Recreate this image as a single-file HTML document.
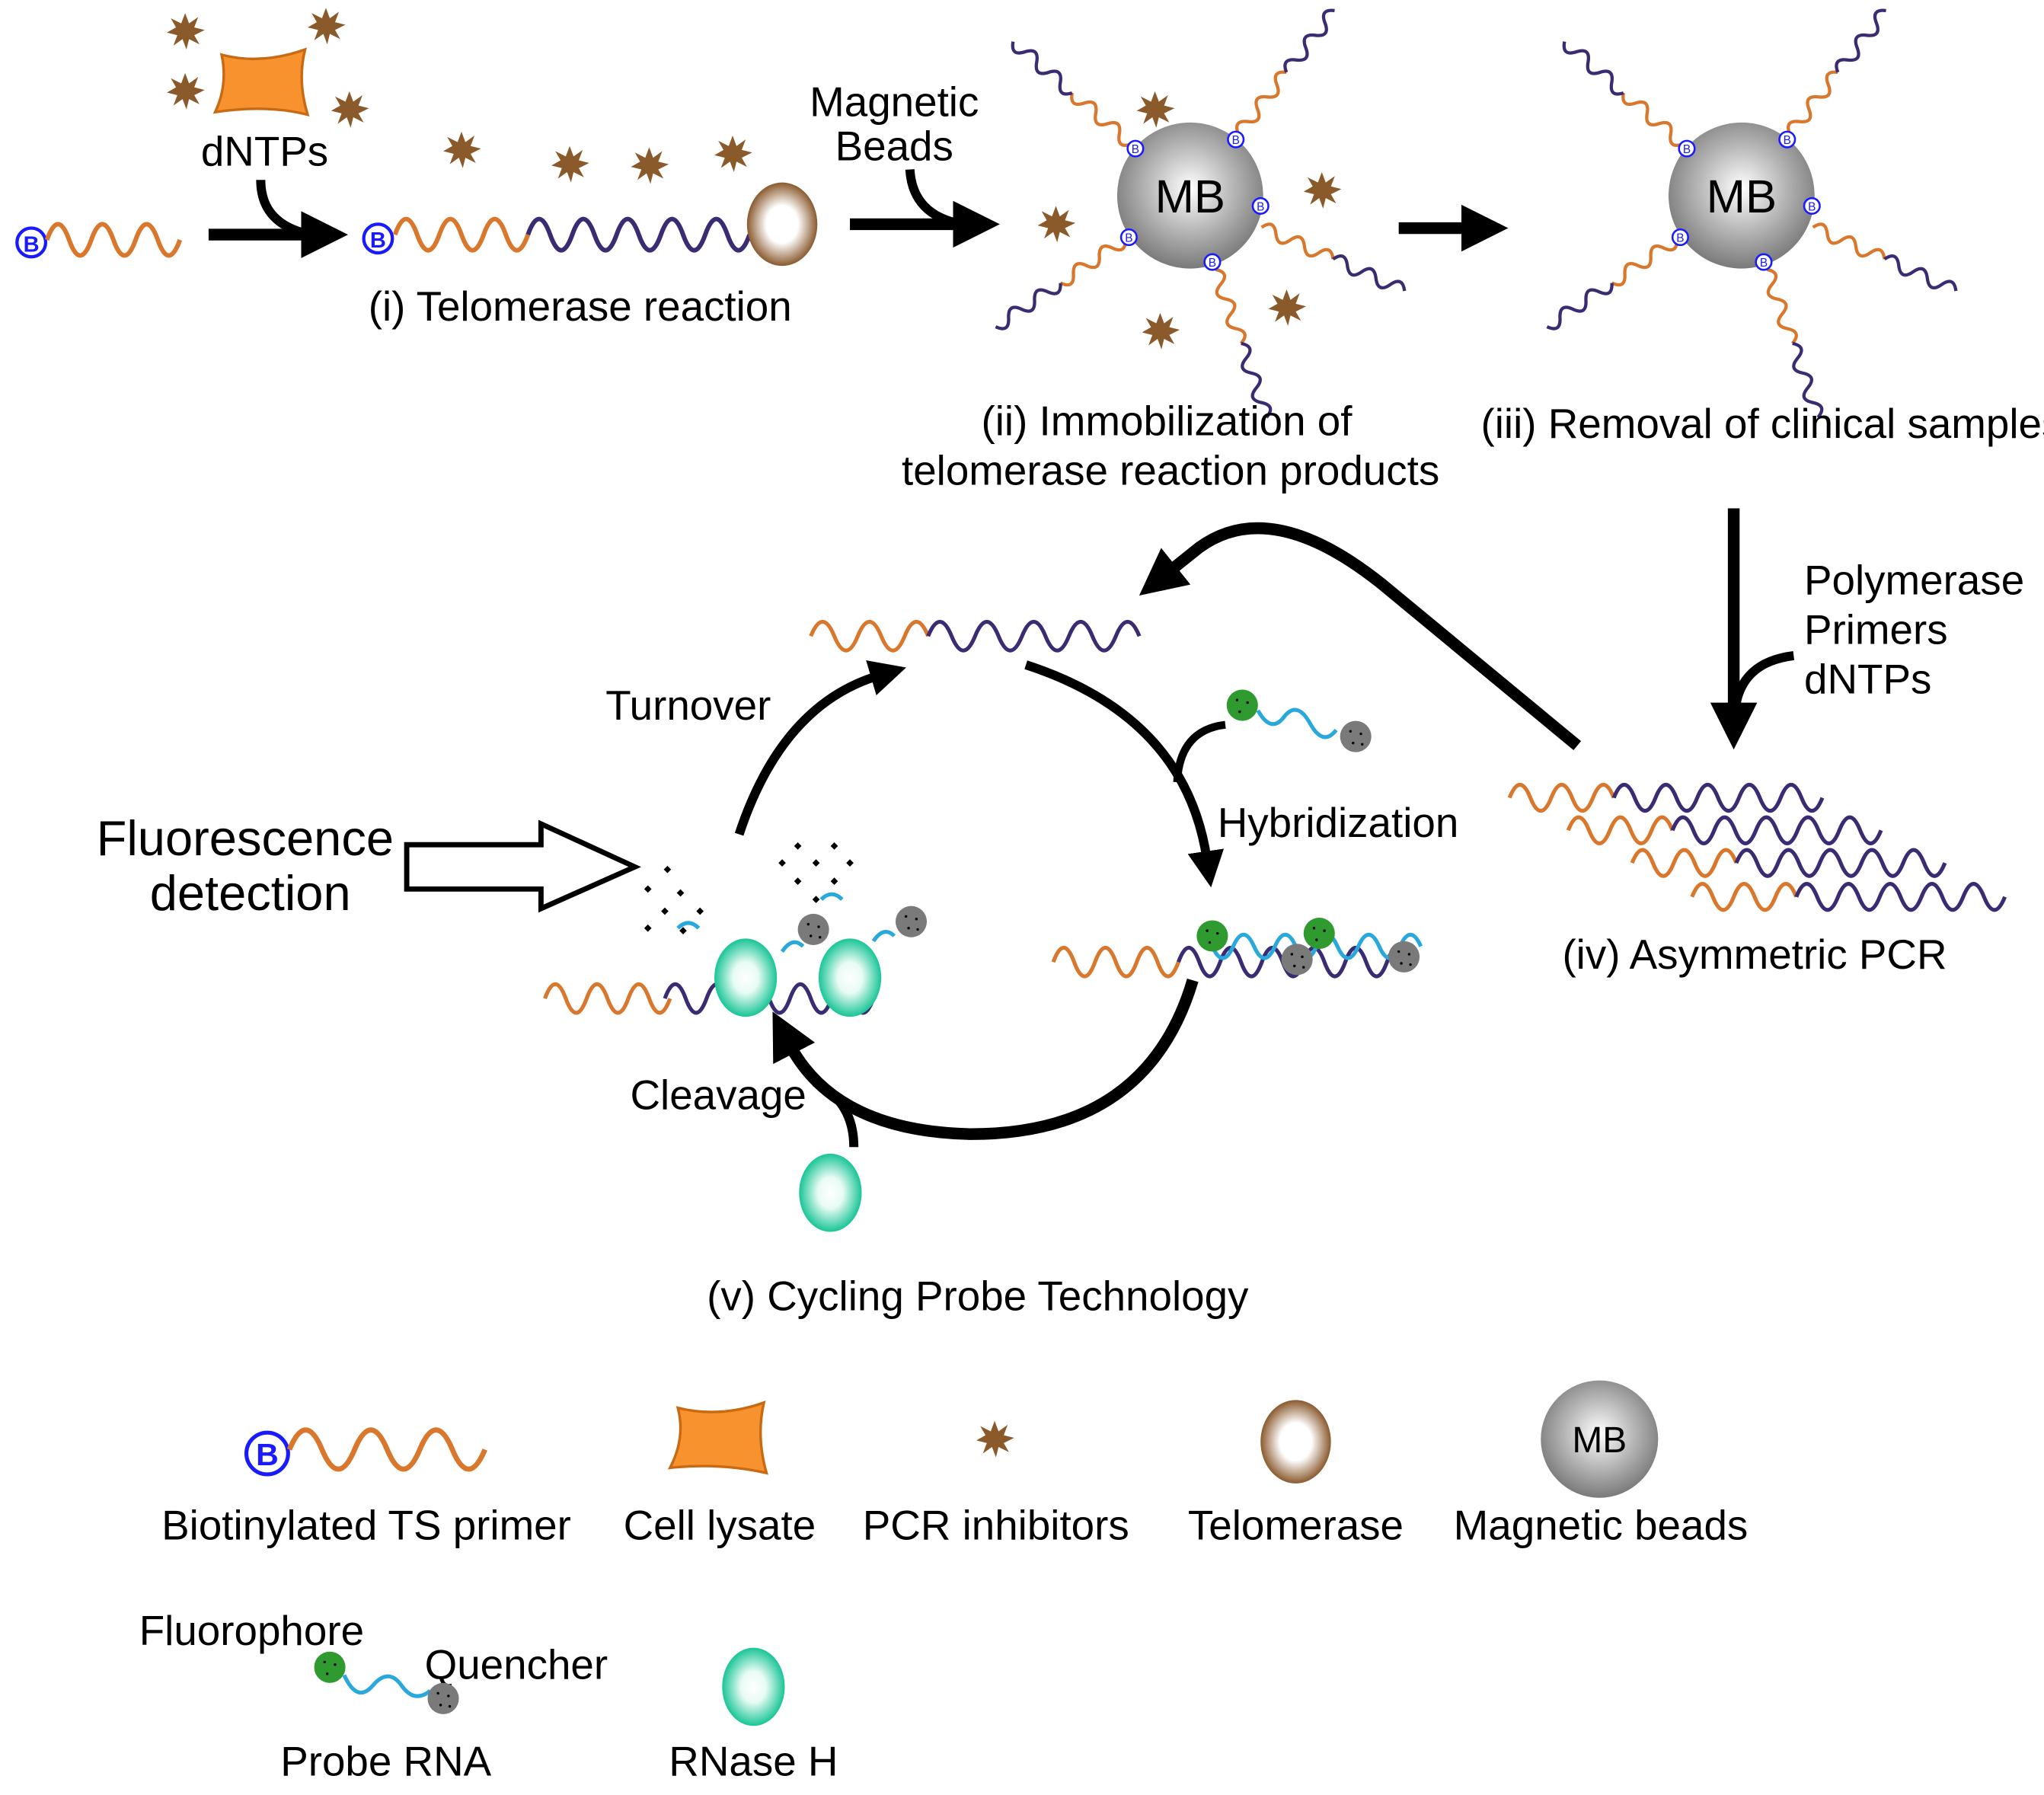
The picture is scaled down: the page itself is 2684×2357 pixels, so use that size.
<!DOCTYPE html>
<html><head><meta charset="utf-8"><style>
html,body{margin:0;padding:0;background:#fff;}
svg{display:block;}
text{font-family:"Liberation Sans",Arial,sans-serif;fill:#000;}
</style></head><body>
<svg width="2684" height="2357" viewBox="0 0 1568 1377" xmlns="http://www.w3.org/2000/svg">
<defs>
<radialGradient id="gb" cx="50%" cy="50%" r="50%"><stop offset="0" stop-color="#fff"/><stop offset="0.45" stop-color="#fff"/><stop offset="1" stop-color="#8a5a2e"/></radialGradient>
<radialGradient id="gm" cx="50%" cy="45%" r="55%"><stop offset="0" stop-color="#fff"/><stop offset="0.5" stop-color="#bbb"/><stop offset="1" stop-color="#7a7a7a"/></radialGradient>
<radialGradient id="gt" cx="50%" cy="50%" r="50%"><stop offset="0" stop-color="#fff"/><stop offset="0.4" stop-color="#e8fbf4"/><stop offset="1" stop-color="#19c596"/></radialGradient>
<polygon id="star" points="0,-14 3,-6 10,-11 7,-3 15,-1 7,3 11,10 3,6 1,14 -2,6 -9,11 -6,3 -14,1 -7,-3 -11,-10 -3,-6" fill="#8b5a2b"/>
<g id="strand">
<path d="M60,0 q6,-10 12,0 t12,0 t12,0 t12,0 t12,0" stroke="#d9782c" stroke-width="2.5" fill="none"/>
<path d="M120,0 q6,-10 12,0 t12,0 t12,0 t12,0 t12,0" stroke="#3b2b73" stroke-width="2.5" fill="none"/>
</g>
<g id="bb"><circle r="6" fill="#fff" stroke="#1a1aff" stroke-width="1.5"/><text x="0" y="3.5" font-size="9" text-anchor="middle" style="fill:#1a1aff">B</text></g>
<g id="grn"><circle r="12" fill="#2e9a30"/><circle cx="-4" cy="-4" r="1" fill="#000"/><circle cx="4" cy="-2" r="1" fill="#000"/><circle cx="-2" cy="5" r="1" fill="#000"/></g>
<g id="gry"><circle r="12" fill="#7a7a7a"/><circle cx="-4" cy="-4" r="1" fill="#000"/><circle cx="4" cy="-2" r="1" fill="#000"/><circle cx="-2" cy="5" r="1" fill="#000"/><circle cx="5" cy="6" r="1" fill="#000"/></g>
<ellipse id="rn" rx="24" ry="30" fill="url(#gt)"/>
<marker id="ah" markerWidth="4" markerHeight="4" refX="1" refY="2" orient="auto" markerUnits="strokeWidth"><path d="M0,0 L4,2 L0,4 z" fill="#000"/></marker>
</defs>

<!-- step i -->
<use href="#star" x="142" y="24"/><use href="#star" x="250" y="20"/><use href="#star" x="142" y="70"/><use href="#star" x="268" y="84"/>
<path d="M170,42 Q200,50 234,38 Q228,62 236,88 Q205,80 165,86 Q175,65 170,42z" fill="#f7922f" stroke="#c86a12" stroke-width="2"/>
<text x="203" y="127" font-size="32" text-anchor="middle">dNTPs</text>
<g><circle cx="24" cy="186" r="11" fill="#fff" stroke="#1a1aff" stroke-width="2.5"/><text x="24" y="193" font-size="17" font-weight="bold" text-anchor="middle" style="fill:#1a1aff">B</text></g>
<path d="M36,184 q8.5,-24 17,0 t17,0 t17,0 t17,0 t17,0 t17,0" stroke="#d9782c" stroke-width="3.5" fill="none"/>
<path d="M200,138 Q200,172 238,180" stroke="#000" stroke-width="7" fill="none"/>
<line x1="160" y1="180" x2="240" y2="180" stroke="#000" stroke-width="9" marker-end="url(#ah)"/>
<g><circle cx="290" cy="183" r="11" fill="#fff" stroke="#1a1aff" stroke-width="2.5"/><text x="290" y="190" font-size="17" font-weight="bold" text-anchor="middle" style="fill:#1a1aff">B</text></g>
<path d="M303,180 q8.5,-24 17,0 t17,0 t17,0 t17,0 t17,0 t17,0" stroke="#d9782c" stroke-width="3.5" fill="none"/>
<path d="M405,180 q8.5,-24 17,0 t17,0 t17,0 t17,0 t17,0 t17,0 t17,0 t17,0 t17,0 t17,0" stroke="#3b2b73" stroke-width="3.5" fill="none"/>
<ellipse cx="600" cy="172" rx="27" ry="32" fill="url(#gb)"/>
<use href="#star" x="354" y="115"/><use href="#star" x="437" y="126"/><use href="#star" x="498" y="127"/><use href="#star" x="562" y="118"/>
<text x="445" y="246" font-size="32" text-anchor="middle">(i) Telomerase reaction</text>

<!-- arrow 2 -->
<text x="686" y="89" font-size="32" text-anchor="middle">Magnetic</text>
<text x="686" y="123" font-size="32" text-anchor="middle">Beads</text>
<path d="M698,130 Q700,165 738,172" stroke="#000" stroke-width="7" fill="none"/>
<line x1="652" y1="172" x2="740" y2="172" stroke="#000" stroke-width="9" marker-end="url(#ah)"/>

<!-- step ii -->
<g transform="translate(913,150)">
<use href="#strand" transform="rotate(-139)"/><use href="#strand" transform="rotate(-52)"/><use href="#strand" transform="rotate(24)"/><use href="#strand" transform="rotate(71)"/><use href="#strand" transform="rotate(146)"/>
<circle r="56" fill="url(#gm)"/>
<text x="0" y="13" font-size="36" text-anchor="middle">MB</text>
<use href="#bb" x="-42" y="-36"/><use href="#bb" x="35" y="-43"/><use href="#bb" x="54" y="8"/><use href="#bb" x="17" y="51"/><use href="#bb" x="-47" y="32"/>
</g>
<use href="#star" x="886" y="84"/><use href="#star" x="1014" y="146"/><use href="#star" x="810" y="172"/><use href="#star" x="890" y="254"/><use href="#star" x="987" y="236"/>
<text x="895" y="334" font-size="32" text-anchor="middle">(ii) Immobilization of</text>
<text x="898" y="372" font-size="32" text-anchor="middle">telomerase reaction products</text>

<line x1="1073" y1="175" x2="1130" y2="175" stroke="#000" stroke-width="9" marker-end="url(#ah)"/>

<!-- step iii -->
<g transform="translate(1336,150)">
<use href="#strand" transform="rotate(-139)"/><use href="#strand" transform="rotate(-52)"/><use href="#strand" transform="rotate(24)"/><use href="#strand" transform="rotate(71)"/><use href="#strand" transform="rotate(146)"/>
<circle r="56" fill="url(#gm)"/>
<text x="0" y="13" font-size="36" text-anchor="middle">MB</text>
<use href="#bb" x="-42" y="-36"/><use href="#bb" x="35" y="-43"/><use href="#bb" x="54" y="8"/><use href="#bb" x="17" y="51"/><use href="#bb" x="-47" y="32"/>
</g>
<text x="1136" y="336" font-size="32">(iii) Removal of clinical samples</text>

<!-- iv -->
<line x1="1330" y1="390" x2="1330" y2="548" stroke="#000" stroke-width="9" marker-end="url(#ah)"/>
<path d="M1376,503 Q1335,508 1331,545" stroke="#000" stroke-width="7" fill="none"/>
<text x="1384" y="456" font-size="32">Polymerase</text>
<text x="1384" y="494" font-size="32">Primers</text>
<text x="1384" y="532" font-size="32">dNTPs</text>
<g stroke-width="3" fill="none">
<path d="M1158,612 q8,-20 16,0 t16,0 t16,0 t16,0 t16,0" stroke="#d9782c"/><path d="M1238,612 q8,-20 16,0 t16,0 t16,0 t16,0 t16,0 t16,0 t16,0 t16,0 t16,0 t16,0" stroke="#3b2b73"/>
<path d="M1203,637 q8,-20 16,0 t16,0 t16,0 t16,0 t16,0" stroke="#d9782c"/><path d="M1283,637 q8,-20 16,0 t16,0 t16,0 t16,0 t16,0 t16,0 t16,0 t16,0 t16,0 t16,0" stroke="#3b2b73"/>
<path d="M1252,662 q8,-20 16,0 t16,0 t16,0 t16,0 t16,0" stroke="#d9782c"/><path d="M1332,662 q8,-20 16,0 t16,0 t16,0 t16,0 t16,0 t16,0 t16,0 t16,0 t16,0 t16,0" stroke="#3b2b73"/>
<path d="M1298,688 q8,-20 16,0 t16,0 t16,0 t16,0 t16,0" stroke="#d9782c"/><path d="M1378,688 q8,-20 16,0 t16,0 t16,0 t16,0 t16,0 t16,0 t16,0 t16,0 t16,0 t16,0" stroke="#3b2b73"/>
</g>
<text x="1346" y="743" font-size="32" text-anchor="middle">(iv) Asymmetric PCR</text>

<!-- big return arrow -->
<path d="M1210,572 L1060,448 Q975,380 920,420 L895,440" stroke="#000" stroke-width="9" fill="none" marker-end="url(#ah)"/>

<!-- cycle -->
<g stroke-width="3" fill="none">
<path d="M622,488 q9,-22 18,0 t18,0 t18,0 t18,0 t18,0" stroke="#d9782c"/><path d="M712,488 q9,-22 18,0 t18,0 t18,0 t18,0 t18,0 t18,0 t18,0 t18,0 t18,0" stroke="#3b2b73"/>
</g>
<path d="M567,640 Q600,540 675,518" stroke="#000" stroke-width="7" fill="none" marker-end="url(#ah)"/>
<text x="528" y="552" font-size="32" text-anchor="middle">Turnover</text>
<path d="M787,510 Q910,550 926,660" stroke="#000" stroke-width="7" fill="none" marker-end="url(#ah)"/>
<path d="M940,556 Q905,560 903,600" stroke="#000" stroke-width="6" fill="none"/>
<use href="#grn" x="953" y="541"/><path d="M965,545 q10,18 20,5 t20,5 t20,5" stroke="#29a8dc" stroke-width="3" fill="none"/><use href="#gry" x="1040" y="565"/>
<text x="934" y="642" font-size="32">Hybridization</text>
<!-- hybrid strand -->
<g stroke-width="3" fill="none">
<path d="M808,738 q8,-22 16,0 t16,0 t16,0 t16,0 t16,0 t16,0" stroke="#d9782c"/>
<path d="M904,738 q8,-22 16,0 t16,0 t16,0 t16,0 t16,0 t16,0 t16,0 t16,0 t16,0 t16,0 t16,0" stroke="#3b2b73"/>
<path d="M930,726 q8,18 16,0 t16,0 t16,0 t16,0 t16,0 t16,0 t16,0 t16,0 t16,0 t16,0" stroke="#29a8dc"/>
</g>
<use href="#grn" x="930" y="718"/><use href="#gry" x="995" y="736"/><use href="#grn" x="1012" y="716"/><use href="#gry" x="1077" y="734"/>
<path d="M915,752 Q880,870 745,870 Q640,868 605,800" stroke="#000" stroke-width="9" fill="none" marker-end="url(#ah)"/>
<path d="M655,880 Q655,845 625,830" stroke="#000" stroke-width="7" fill="none"/>
<use href="#rn" x="637" y="915"/>
<text x="551" y="851" font-size="32" text-anchor="middle">Cleavage</text>
<!-- cleaved strand -->
<g stroke-width="3" fill="none">
<path d="M418,766 q8,-22 16,0 t16,0 t16,0 t16,0 t16,0 t16,0" stroke="#d9782c"/>
<path d="M510,766 q8,-22 16,0 t16,0 t16,0 t16,0 t16,0 t16,0 t16,0 t16,0 t16,0 t16,0" stroke="#3b2b73"/>
<path d="M600,730 q8,-12 16,-4" stroke="#29a8dc"/><path d="M670,722 q8,-12 16,-4" stroke="#29a8dc"/>
<path d="M520,712 q8,-8 16,0" stroke="#29a8dc"/><path d="M630,690 q8,-8 16,0" stroke="#29a8dc"/>
</g>
<use href="#gry" x="624" y="713"/><use href="#gry" x="699" y="707"/>
<use href="#rn" x="572" y="750"/><use href="#rn" x="652" y="750"/>
<g fill="#000">
<rect x="510" y="665" width="4" height="4" transform="rotate(45 512 667)"/><rect x="495" y="680" width="4" height="4" transform="rotate(45 497 682)"/><rect x="520" y="683" width="4" height="4" transform="rotate(45 522 685)"/><rect x="508" y="697" width="4" height="4" transform="rotate(45 510 699)"/><rect x="535" y="697" width="4" height="4" transform="rotate(45 537 699)"/><rect x="495" y="710" width="4" height="4" transform="rotate(45 497 712)"/><rect x="522" y="712" width="4" height="4" transform="rotate(45 524 714)"/>
<rect x="610" y="647" width="4" height="4" transform="rotate(45 612 649)"/><rect x="638" y="647" width="4" height="4" transform="rotate(45 640 649)"/><rect x="598" y="660" width="4" height="4" transform="rotate(45 600 662)"/><rect x="624" y="660" width="4" height="4" transform="rotate(45 626 662)"/><rect x="650" y="660" width="4" height="4" transform="rotate(45 652 662)"/><rect x="610" y="674" width="4" height="4" transform="rotate(45 612 676)"/><rect x="638" y="674" width="4" height="4" transform="rotate(45 640 676)"/><rect x="624" y="688" width="4" height="4" transform="rotate(45 626 690)"/>
</g>
<polygon points="312,648 415,648 415,632 487,665 415,697 415,682 312,682" fill="#fff" stroke="#000" stroke-width="4"/>
<text x="188" y="656" font-size="38" text-anchor="middle">Fluorescence</text>
<text x="192" y="698" font-size="38" text-anchor="middle">detection</text>
<text x="750" y="1005" font-size="32" text-anchor="middle">(v) Cycling Probe Technology</text>

<!-- legend -->
<g><circle cx="205" cy="1115" r="16" fill="#fff" stroke="#1a1aff" stroke-width="3"/><text x="205" y="1124" font-size="24" font-weight="bold" text-anchor="middle" style="fill:#1a1aff">B</text></g>
<path d="M222,1112 q12.5,-30 25,0 t25,0 t25,0 t25,0 t25,0 t25,0" stroke="#d9782c" stroke-width="4" fill="none"/>
<text x="281" y="1181" font-size="32" text-anchor="middle">Biotinylated TS primer</text>
<path d="M520,1080 Q552,1088 586,1076 Q580,1102 588,1130 Q552,1122 514,1126 Q526,1103 520,1080z" fill="#f7922f" stroke="#c86a12" stroke-width="2"/>
<text x="552" y="1181" font-size="32" text-anchor="middle">Cell lysate</text>
<use href="#star" x="763" y="1104"/>
<text x="764" y="1181" font-size="32" text-anchor="middle">PCR inhibitors</text>
<ellipse cx="994" cy="1106" rx="27" ry="32" fill="url(#gb)"/>
<text x="994" y="1181" font-size="32" text-anchor="middle">Telomerase</text>
<circle cx="1227" cy="1104" r="45" fill="url(#gm)"/>
<text x="1227" y="1114" font-size="28" text-anchor="middle">MB</text>
<text x="1228" y="1181" font-size="32" text-anchor="middle">Magnetic beads</text>
<text x="193" y="1262" font-size="32" text-anchor="middle">Fluorophore</text>
<text x="396" y="1288" font-size="32" text-anchor="middle">Quencher</text>
<use href="#grn" x="253" y="1279"/><path d="M264,1285 q10,22 22,8 t22,0 t22,4" stroke="#29a8dc" stroke-width="3" fill="none"/><use href="#gry" x="340" y="1303"/>
<text x="296" y="1362" font-size="32" text-anchor="middle">Probe RNA</text>
<use href="#rn" x="578" y="1294"/>
<text x="578" y="1362" font-size="32" text-anchor="middle">RNase H</text>
</svg>
</body></html>
